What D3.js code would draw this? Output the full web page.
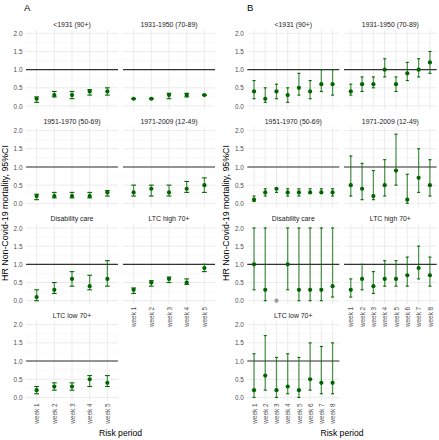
<!DOCTYPE html>
<html><head><meta charset="utf-8">
<script src="https://cdn.jsdelivr.net/npm/d3@7"></script>
<style>body{margin:0;background:#fff}svg{display:block;font-family:"Liberation Sans",Arial,sans-serif}</style>
</head><body><svg id="c" width="439" height="440"></svg>
<script>
// ---------- data ----------
const groups = ["<1931 (90+)","1931-1950 (70-89)","1951-1970 (50-69)","1971-2009 (12-49)","Disability care","LTC high 70+","LTC low 70+"];
const weeksA = ["week 1","week 2","week 3","week 4","week 5"];
const weeksB = ["week 1","week 2","week 3","week 4","week 5","week 6","week 7","week 8"];
const yTicks = [0,0.5,1,1.5,2];
const yMinor = [0.25,0.75,1.25,1.75];

const hrA = [[0.2,0.3,0.3,0.4,0.4],[0.2,0.2,0.3,0.3,0.3],[0.2,0.2,0.2,0.2,0.3],[0.3,0.4,0.3,0.4,0.5],[0.1,0.3,0.6,0.4,0.6],[0.3,0.5,0.6,0.5,0.9],[0.2,0.3,0.3,0.5,0.4]];
const loA = [[0.1,0.25,0.2,0.3,0.3],[0.2,0.2,0.2,0.25,0.3],[0.1,0.15,0.15,0.15,0.2],[0.2,0.2,0.2,0.3,0.3],[0.0,0.2,0.4,0.3,0.4],[0.2,0.4,0.5,0.45,0.8],[0.1,0.2,0.2,0.3,0.3]];
const hiA = [[0.25,0.4,0.4,0.45,0.5],[0.2,0.2,0.35,0.35,0.3],[0.25,0.3,0.3,0.3,0.35],[0.5,0.5,0.5,0.6,0.7],[0.3,0.5,0.8,0.7,1.1],[0.35,0.55,0.65,0.6,1.0],[0.3,0.4,0.4,0.6,0.6]];

const hrB = [[0.4,0.2,0.4,0.3,0.5,0.4,0.6,0.6],[0.4,0.6,0.6,1.0,0.6,0.9,1.0,1.2],[0.1,0.3,0.4,0.3,0.3,0.3,0.3,0.3],[0.5,0.4,0.2,0.5,0.9,0.1,0.7,0.5],[1.0,0.3,0.0,1.0,0.3,0.3,0.3,0.4],[0.3,0.6,0.4,0.6,0.6,0.7,0.9,0.7],[0.2,0.6,0.2,0.3,0.2,0.5,0.4,0.4]];
const loB = [[0.2,0.1,0.2,0.1,0.3,0.2,0.4,0.3],[0.3,0.4,0.5,0.8,0.4,0.7,0.8,0.9],[0.05,0.2,0.3,0.2,0.2,0.3,0.3,0.2],[0.2,0.1,0.1,0.2,0.5,0.0,0.3,0.2],[0.3,0.0,null,0.3,0.0,0.0,0.0,0.1],[0.1,0.3,0.2,0.4,0.4,0.4,0.6,0.4],[0.0,0.2,0.0,0.1,0.0,0.2,0.1,0.1]];
const hiB = [[0.7,0.5,0.6,0.5,0.9,0.7,1.0,1.0],[0.6,0.8,0.8,1.3,0.8,1.2,1.3,1.5],[0.2,0.4,0.4,0.4,0.4,0.4,0.4,0.4],[1.3,1.1,0.9,1.2,1.9,0.8,1.5,1.2],[2.0,2.0,null,2.0,2.0,2.0,2.0,2.0],[0.6,1.0,0.8,1.1,1.1,1.2,1.5,1.2],[1.2,1.7,1.1,1.2,1.1,1.5,1.4,1.5]];

const labels = ["A","B"];
const yTitle = "HR Non-Covid-19 mortality, 95%CI";
const xTitle = "Risk period";

// ---------- layout ----------
const svg = d3.select("#c");
const rowY2 = [33.3,130.6,228.0,324.7]; // y of value 2.0
const unit = 36.35;
const blocks = [
  {cols:[[26,118],[123,215]], weeks:weeksA, hr:hrA, lo:loA, hi:hiA, lab:labels[0], labX:24, titleX:5, xTitleX:120.5},
  {cols:[[247.3,339.3],[344,436.7]], weeks:weeksB, hr:hrB, lo:loB, hi:hiB, lab:labels[1], labX:247, titleX:226.3, xTitleX:342}
];
const dark = "#006400";

blocks.forEach(b=>{
  groups.forEach((g,i)=>{
    const r = Math.floor(i/2), c = i%2;
    const [x0,x1] = b.cols[c];
    const y2 = rowY2[r];
    const y = d3.scaleLinear().domain([-0.1,2.1]).range([y2+2.1*unit, y2-0.1*unit]);
    const x = d3.scalePoint().domain(b.weeks).range([x0,x1]).padding(0.6);
    const gp = svg.append("g");
    // grid
    gp.selectAll(".mn").data(yMinor).join("line")
      .attr("x1",x0).attr("x2",x1).attr("y1",d=>y(d)).attr("y2",d=>y(d))
      .attr("stroke","#f3f3f3").attr("stroke-width",0.6);
    gp.selectAll(".mj").data(yTicks).join("line")
      .attr("x1",x0).attr("x2",x1).attr("y1",d=>y(d)).attr("y2",d=>y(d))
      .attr("stroke","#ebebeb").attr("stroke-width",1);
    gp.selectAll(".vg").data(b.weeks).join("line")
      .attr("x1",d=>x(d)).attr("x2",d=>x(d)).attr("y1",y.range()[1]).attr("y2",y.range()[0])
      .attr("stroke","#ebebeb").attr("stroke-width",1);
    // reference line
    gp.append("line").attr("x1",x0).attr("x2",x1).attr("y1",y(1)).attr("y2",y(1))
      .attr("stroke","#333").attr("stroke-width",1.1);
    // strip
    svg.append("text").attr("x",(x0+x1)/2).attr("y",y2-6.8).attr("text-anchor","middle")
      .attr("font-size",6.9).attr("fill","#1a1a1a").text(g);
    // y axis
    if(c===0){
      const ax = svg.append("g").attr("transform",`translate(${x0-1.2},0)`)
        .call(d3.axisLeft(y).tickValues(yTicks).tickFormat(d3.format(".1f")).tickSize(0).tickPadding(2.3));
      ax.select(".domain").remove();
      ax.selectAll("text").attr("font-size",6.4).attr("fill","#4d4d4d").attr("font-family","Liberation Sans, Arial, sans-serif");
    }
    // x axis
    const bottomCol = (i===5||i===6);
    if(bottomCol){
      const ax = svg.append("g").attr("transform",`translate(0,${y.range()[0]})`)
        .call(d3.axisBottom(x).tickSize(0).tickPadding(0));
      ax.select(".domain").remove();
      ax.selectAll("text").attr("font-size",6.4).attr("fill","#4d4d4d").attr("font-family","Liberation Sans, Arial, sans-serif")
        .attr("transform","rotate(-90)").attr("text-anchor","end").attr("x",-2.5).attr("y",0).attr("dy","0.33em");
    }
    // error bars
    const cw = x.step()*0.135;
    const data = b.weeks.map((w,k)=>({w, hr:b.hr[i][k], lo:b.lo[i][k], hi:b.hi[i][k]}));
    const eb = data.filter(d=>d.lo!==null);
    gp.selectAll(".eb").data(eb).join("line")
      .attr("x1",d=>x(d.w)).attr("x2",d=>x(d.w)).attr("y1",d=>y(d.lo)).attr("y2",d=>y(d.hi))
      .attr("stroke",dark).attr("stroke-opacity",0.65).attr("stroke-width",1.3);
    ["lo","hi"].forEach(k=>{
      gp.selectAll(".cap"+k).data(eb).join("line")
        .attr("x1",d=>x(d.w)-cw).attr("x2",d=>x(d.w)+cw).attr("y1",d=>y(d[k])).attr("y2",d=>y(d[k]))
        .attr("stroke",dark).attr("stroke-width",1.1);
    });
    gp.selectAll(".pt").data(data).join("circle")
      .attr("cx",d=>x(d.w)).attr("cy",d=>y(d.hr)).attr("r",2.1)
      .attr("fill",d=>d.lo===null?"#9a9a9a":dark);
  });
  // titles
  svg.append("text").attr("x",b.labX).attr("y",10.6).attr("font-size",9.5).attr("fill","#000").text(b.lab);
  svg.append("text").attr("transform",`translate(${b.titleX+3},213) rotate(-90)`).attr("text-anchor","middle")
    .attr("font-size",8.8).attr("fill","#000").text(yTitle);
  svg.append("text").attr("x",b.xTitleX).attr("y",436).attr("text-anchor","middle")
    .attr("font-size",8.6).attr("fill","#000").text(xTitle);
});
</script></body></html>
